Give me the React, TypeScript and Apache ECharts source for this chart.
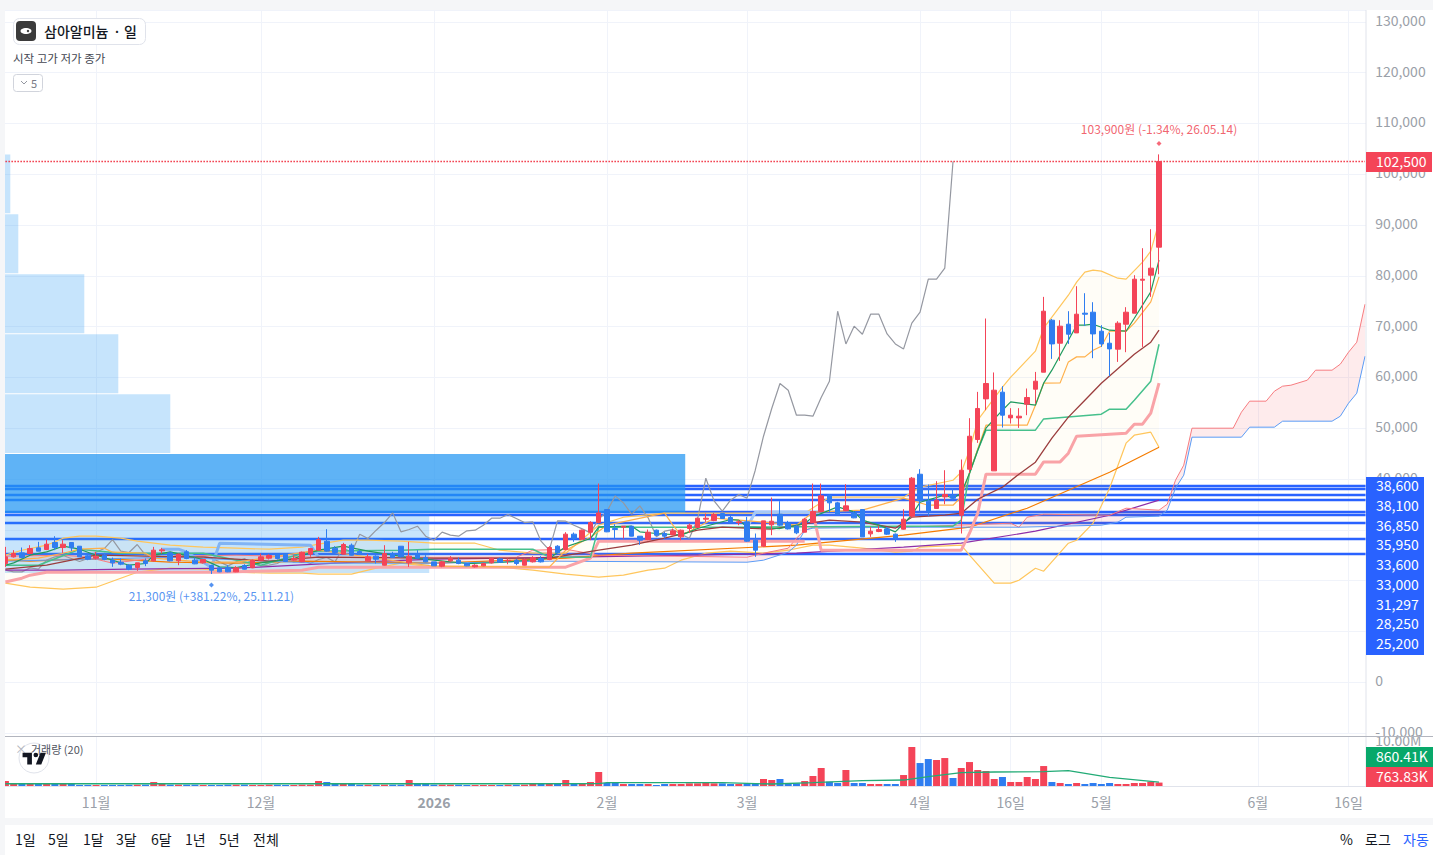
import React, { useEffect, useRef } from "react";
import * as echarts from "echarts";

type P = [number, number];
const FONT = '"Noto Sans CJK KR","Noto Sans",sans-serif';

const SLOT_COUNT = 166;
const categories = Array.from({ length: SLOT_COUNT }, (_, i) => String(i));
const timeTicks: [number, string][] = [[11, "11월"], [31, "12월"], [52, "2026"], [73, "2월"], [90, "3월"], [111, "4월"], [122, "16일"], [133, "5월"], [152, "6월"], [163, "16일"]];

// [open, close, low, high]
const candles: number[][] = [
  [23360,24670,22710,26640],[24670,25330,24540,25990],[25460,24540,24410,26510],[25330,26310,25200,26970],[26450,25790,25790,27630],
  [26120,27170,25990,28080],[27500,26510,25990,28740],[26510,27170,25460,27950],[27500,26450,25790,27500],[26770,24670,24670,26770],
  [24870,24210,24020,25330],[24410,24810,24150,25660],[25000,24150,24020,25460],[24020,23490,22710,24540],[23620,23230,23030,24350],
  [23030,22250,22050,23230],[22580,23490,21920,23490],[23890,23360,22840,24350],[23890,25990,23760,26640],[25860,26050,25330,26450],
  [25460,23890,23820,25660],[23890,25200,23030,25330],[25660,24350,24210,25990],[24020,23300,23230,24540],[23490,24150,23360,24150],
  [22970,22050,21300,23030],[22510,21720,21660,22710],[22580,21720,21660,23030],[21720,22510,21660,22840],[22970,22250,22180,23230],
  [22510,24020,22440,24150],[24020,24670,24020,25330],[24410,24940,24150,25200],[25200,24350,24150,25330],[25200,23760,23690,25330],
  [24020,24350,23890,25000],[23690,25590,23620,25720],[25200,26310,24670,26310],[25990,28080,25860,28610],[27750,25790,25660,30120],
  [26380,25530,25330,26770],[25200,27100,25130,27430],[26970,25000,24940,27300],[25720,25130,25070,26120],[23890,24670,23820,25200],
  [24810,24210,23360,25000],[23030,25330,22970,26970],[25330,24540,24480,25660],[26770,24670,24540,26770],[23490,24810,22710,27630],
  [25130,24410,24350,25990],[24540,23690,23620,25000],[23690,22900,22900,23690],[22840,23690,22640,23890],[23890,24350,23690,24810],
  [24020,23360,23230,24540],[23360,22900,22840,23490],[22710,23030,22580,23230],[22900,23360,22840,23490],[23490,24350,23360,24540],
  [24280,23620,23490,24540],[23890,24020,23230,24350],[24020,23360,23030,24280],[23030,24150,22970,24350],[23690,24540,23560,24810],
  [24350,23690,23560,24810],[24150,26510,24020,26770],[26770,25460,25330,26970],[26120,29140,25990,29530],[29140,28280,27630,29460],
  [28150,29920,28080,30050],[29530,31430,27950,31690],[31430,33330,31230,39110],[33990,29600,29530,34050],[30250,30050,28280,31100],
  [30510,30710,28280,30710],[30710,28740,28700,30770],[28740,27950,27040,28740],[28080,29530,27950,30050],[29920,28940,28810,30050],
  [29270,28740,28280,29600],[29000,29790,28940,30250],[28610,29920,27950,30050],[30250,30910,29400,31230],[30450,32280,30320,32410],
  [32090,32280,31560,33200],[31820,33000,31690,33330],[33200,32220,32220,33200],[32410,31430,31360,32810],[31430,31560,30910,31890],
  [31560,27760,27630,32550],[27950,25990,24670,29270],[26770,31760,26770,31760],[30970,31690,28940,36350],[33070,30910,30710,35630],
  [31360,30180,30050,31760],[30710,29400,29140,30910],[29530,32090,29460,32350],[31430,33600,31360,39110],[33600,36680,33470,39110],
  [36810,35300,33530,37010],[35300,33070,32940,35500],[33790,34710,33660,38980],[33330,32350,32280,33660],[33990,28610,28610,33990],
  [29200,29730,28610,30580],[29660,30050,29530,30840],[30180,29140,29000,30580],[29140,28350,27630,29270],[30120,32090,30050,34050],
  [32680,40160,32400,40400],[40940,35700,33520,41930],[35630,33660,32680,38900],[34190,35830,34190,39570],[36480,36950,35040,41730],
  [36810,36220,35830,38130],[32870,41730,29270,43840],[41930,48420,41200,51970],[47770,53880,47110,57150],[55770,58800,53540,71590],
  [41600,57480,41600,60970],[57090,52560,50130,58270],[52030,52560,50920,53940],[52030,52360,50060,53940],[54720,56040,52560,57810],
  [57680,59250,54860,61080],[61020,73030,61020,75850],[71260,66590,63640,71500],[66730,70080,63250,71260],[70470,68500,66590,73030],
  [68760,72440,68760,77950],[72640,72440,70140,76570],[72830,68560,63780,74800],[69090,66590,66000,70280],[66730,65610,60240,68760],
  [65550,70670,63050,71060],[70470,72830,64960,73820],[72640,79330,72640,80120],[79130,79330,66000,85430],[80120,81500,75850,89170],
  [85630,102500,80310,103900],
];

const volumes = [
  1.11,0.44,0.44,0.44,0.67,0.67,0.44,0.44,0.44,0.22,
  0.22,0.22,0.22,0.22,0.22,0.3,0.3,0.3,0.89,0.44,
  0.3,0.3,0.3,0.3,0.22,0.22,0.22,0.3,0.3,0.3,
  0.22,0.22,0.3,0.3,0.22,0.22,0.3,0.3,1.11,0.89,
  0.59,0.44,0.44,0.3,0.3,0.3,0.3,0.3,0.3,1.33,
  0.44,0.44,0.3,0.3,0.3,0.3,0.22,0.22,0.22,0.22,
  0.22,0.3,0.3,0.3,0.44,0.44,0.67,0.44,1.33,0.67,
  0.67,0.89,3.11,0.67,0.67,0.44,0.44,0.44,0.44,0.22,
  0.44,0.44,0.44,0.59,0.59,0.89,0.59,0.59,0.44,0.44,
  0.59,0.59,1.56,1.33,1.56,0.59,0.59,1.11,2.22,4.0,
  0.96,0.67,3.56,0.67,0.67,0.44,0.44,0.44,0.44,2.44,
  8.67,5.11,6.0,5.78,6.22,1.78,4.0,5.33,3.56,3.33,
  1.56,2.0,0.89,0.89,2.0,1.56,4.44,0.89,0.67,0.44,
  0.67,0.44,0.67,0.44,0.67,0.44,0.44,0.67,0.67,0.96,
  0.76,
];
const volumeMa: P[] = [[0,0.5],[30,0.5],[60,0.5],[72,0.55],[73,0.75],[87,0.74],[93,0.44],[98,0.74],[104,1.19],[109,1.33],[112,2.07],[116,2.96],[120,3.11],[126,3.19],[129,3.41],[134,1.93],[140,0.86]];

const laggingSpan = [22050,21720,21720,22510,22250,24020,24670,24940,24350,23760,24350,25590,26310,28080,25790,25530,27100,25000,25130,24670,24210,25330,24540,24670,24810,24410,23690,22900,23690,24350,23360,22900,23030,23360,24350,23620,24020,23360,24150,24540,23690,26510,25460,29140,28280,29920,31430,33330,29600,30050,30710,28740,27950,29530,28940,28740,29790,29920,30910,32280,32280,33000,32220,31430,31560,27760,25990,31760,31690,30910,30180,29400,32090,33600,36680,35300,33070,34710,32350,28610,29730,30050,29140,28350,32090,40160,35700,33660,35830,36950,36220,41730,48420,53880,58800,57480,52560,52560,52360,56040,59250,73030,66590,70080,68500,72440,72440,68560,66590,65610,70670,72830,79330,79330,81500,102500];

const shortMa: P[] = [[0,23030],[1,23490],[3,25000],[5,25660],[7,26770],[9,26180],[11,25000],[15,23030],[17,23360],[18,25000],[20,25660],[24,24150],[26,22710],[28,22580],[31,23490],[35,24350],[38,25990],[41,26770],[44,25790],[49,24540],[52,24020],[56,23360],[60,23560],[66,24350],[68,26640],[71,28280],[72,30580],[76,30710],[77,29600],[79,29270],[82,28940],[84,30250],[88,32020],[89,31890],[90,30580],[94,30250],[97,31230],[98,32550],[101,34520],[103,33530],[104,31890],[106,30910],[108,29600],[110,32870],[111,35430],[114,36810],[115,36220],[116,37200],[117,41140],[118,45670],[119,50000],[121,53540],[122,55180],[125,54530],[126,58860],[127,61420],[130,70280],[131,70280],[132,70470],[134,69290],[136,69090],[137,71650],[139,76830],[140,83070]];
const stairOrange: P[] = [[0,24020],[4,24410],[7,25390],[9,26180],[12,26380],[13,25590],[17,25390],[18,24410],[24,23620],[28,23620],[38,25980],[52,22830],[66,22640],[68,25980],[71,28540],[73,30910],[80,33270],[81,30910],[82,28940],[84,30510],[86,32280],[92,31500],[96,30910],[98,33460],[104,33860],[109,36220],[112,34840],[115,34840],[116,36480],[119,50590],[124,50590],[125,54530],[126,58860],[128,58920],[129,63050],[130,64040],[131,64040],[132,65350],[133,66140],[134,69090],[136,69090],[137,70670],[139,74860],[140,79780]];
const bbUpper: P[] = [[0,25000],[2,25980],[5,26970],[7,28350],[9,28740],[11,28740],[14,28350],[16,27760],[20,26970],[24,26570],[28,26380],[32,26180],[36,26570],[38,27170],[41,27950],[44,27950],[48,27760],[52,27360],[57,27360],[60,25980],[64,25390],[68,25390],[72,30910],[75,32480],[80,33270],[84,33270],[97,33270],[100,36420],[109,36420],[111,38390],[115,39760],[116,41340],[117,45670],[118,51570],[121,58070],[122,60040],[125,65160],[126,69680],[129,76180],[130,78740],[131,80710],[132,81100],[133,80910],[135,79530],[136,79330],[138,82680],[139,84840],[140,90550]];
const bbLower: P[] = [[0,19490],[3,18700],[7,18310],[11,18700],[14,20470],[16,21650],[20,22440],[24,22240],[28,21650],[32,21460],[36,21460],[38,21260],[42,21260],[45,22440],[48,23430],[52,22640],[56,22640],[60,22640],[64,22050],[68,21260],[72,20670],[75,21060],[78,22050],[80,22440],[82,24020],[85,25390],[88,25790],[92,25390],[95,25980],[98,26970],[100,26970],[104,26380],[108,25590],[110,25790],[111,26570],[116,26970],[117,25000],[120,19490],[122,19490],[123,20080],[125,22440],[126,21850],[129,27360],[130,27950],[132,31300],[134,38190],[136,47050],[137,48620],[139,49210],[140,46260]];
const midGreen: P[] = [[0,23030],[4,23030],[9,26180],[14,25390],[24,25390],[31,23030],[37,25790],[48,25990],[52,26180],[64,26180],[66,24610],[71,24610],[72,30510],[90,30510],[108,30710],[115,30710],[116,31890],[117,41140],[118,45670],[119,49610],[125,49610],[126,51830],[133,52760],[134,53740],[136,53740],[137,55510],[139,59250],[140,66530]];
const kijunPinkA: P[] = [[0,19740],[2,20470],[3,21060],[5,21650],[26,21650],[36,22050],[38,22640],[52,22640],[66,22640],[68,22640],[71,24410],[72,27760],[90,27760],[97,27760]];
const kijunPinkB: P[] = [[98,33460],[99,25980],[116,25980],[117,29330],[118,33270],[119,40950],[125,40950],[126,43370],[128,43370],[129,45080],[130,48430],[136,49020],[137,50790],[138,50790],[139,52950],[140,58860]];
const kijunBlueA: P[] = [[19,26180],[21,26180],[22,25590],[25,22640],[26,27360],[37,26970],[38,24610]];
const kijunBlueB: P[] = [[90,30510],[91,33460],[98,33460]];
const ma60: P[] = [[0,22240],[5,23030],[8,24020],[11,25000],[17,24800],[24,24610],[32,23820],[38,24610],[52,24410],[66,24410],[72,25980],[76,26970],[80,28350],[84,29920],[87,30510],[93,30120],[100,31890],[104,31500],[108,30320],[110,32480],[114,32870],[116,33270],[118,36020],[121,38390],[123,40950],[125,43310],[126,45670],[127,48030],[129,52170],[131,55510],[133,58860],[137,64570],[139,66930],[140,69290]];
const ma120: P[] = [[0,24020],[3,23820],[9,24210],[13,24210],[20,23620],[28,23430],[36,23820],[52,23430],[68,24410],[76,25390],[96,26970],[109,28940],[117,30510],[124,34250],[134,41340],[140,46260]];
const ma240: P[] = [[0,22050],[7,22050],[15,22240],[28,22440],[40,23430],[52,24210],[76,24800],[96,25390],[109,26570],[116,27360],[125,29730],[134,32870],[140,35830]];
const spanA: P[] = [[0,24800],[7,25000],[10,24610],[13,23430],[20,24800],[28,25000],[38,24610],[52,24610],[62,24610],[64,25980],[68,26180],[72,25000],[90,24610],[92,25390],[95,26380],[96,28350],[97,29920],[98,30510],[109,30510],[122,31300],[123,30510],[124,32480],[126,33070],[134,32870],[136,34250],[140,33860],[141,35040],[142,39760],[143,42720],[144,50000],[149,50000],[150,53150],[151,55320],[153,55320],[154,57280],[155,58270],[156,58460],[158,59450],[159,61420],[161,61420],[162,62600],[163,64960],[164,66930],[165,74410]];
const spanB: P[] = [[0,23820],[20,24610],[38,23430],[52,23430],[66,23820],[90,23620],[92,24020],[95,25590],[96,26970],[97,29920],[98,30320],[109,30510],[123,30510],[133,30910],[135,31500],[136,32480],[140,32680],[141,33860],[142,38190],[143,40750],[144,48230],[150,48230],[151,50200],[154,50200],[155,51380],[161,51380],[162,52360],[163,54920],[164,56890],[165,64170]];

const levelPrices = [38600, 38100, 36850, 35950, 33600, 33000, 31297, 28250, 25200];
const levelLabels = ["38,600", "38,100", "36,850", "35,950", "33,600", "33,000", "31,297", "28,250", "25,200"];
const hiddenAxisTicks = [10000, 20000, 30000];
const profileEdges = [103900, 92100, 80300, 68500, 56700, 44900, 33100, 21300];
const profileVolumes = [9, 17, 83, 117, 169, 684, 428];
const rangeButtons = ["1일", "5일", "1달", "3달", "6달", "1년", "5년", "전체"];
const rangeButtonX = [15, 48, 83, 116, 151, 185, 219, 253];

const RED = "#f44458";
const BLUE = "#2f7df0";
const LEVEL = "#2962ff";

function lineSeries(name: string, data: P[], color: string, width: number, z = 4, extra: any = {}) {
  return { name, type: "line", data, symbol: "none", silent: true, z, lineStyle: { color, width, ...extra }, xAxisIndex: 0, yAxisIndex: 0 };
}

function bandSeries(upper: P[], lower: P[], fill: string, z: number) {
  return {
    type: "custom", xAxisIndex: 0, yAxisIndex: 0, silent: true, z, data: [[0, 0]],
    renderItem: (_: any, api: any) => ({
      type: "polygon",
      shape: { points: [...upper, ...[...lower].reverse()].map((p) => api.coord(p)) },
      style: { fill },
    }),
  };
}

function buildOption() {
  const tag = (x: number, y: number, w: number, h: number, fill: string) => ({ type: "rect", z: 100, silent: true, shape: { x, y, width: w, height: h }, style: { fill } });
  const txt = (x: number, y: number, text: string, fill: string, size: number, weight = "normal", align = "left") => ({
    type: "text", z: 101, silent: true, x, y,
    style: { text, fill, font: `${weight} ${size}px ${FONT}`, textAlign: align, textVerticalAlign: "middle", align, verticalAlign: "middle" },
  });
  const bg = "#f5f6f8";
  const tickIdx = timeTicks.map((t) => t[0]);
  const vLines = { silent: true, symbol: "none", z: 0, animation: false, label: { show: false }, lineStyle: { color: "#f0f3fa", width: 1, type: "solid" }, data: tickIdx.map((i) => ({ xAxis: i })) };

  const graphicEls: any[] = [
    tag(0, 0, 5, 855, bg), tag(0, 0, 1433, 10, bg), tag(0, 818, 1433, 7, bg),
    tag(1366, 10, 6, 808, "#ffffff"),
    { type: "line", z: 100, silent: true, shape: { x1: 1366, y1: 10, x2: 1366, y2: 787 }, style: { stroke: "#e0e3eb", lineWidth: 1 } },
    { type: "line", z: 100, silent: true, shape: { x1: 5, y1: 736.5, x2: 1433, y2: 736.5 }, style: { stroke: "#b2b5be", lineWidth: 1 } },
    { type: "line", z: 100, silent: true, shape: { x1: 5, y1: 786.5, x2: 1366, y2: 786.5 }, style: { stroke: "#e0e3eb", lineWidth: 1 } },
    // header chip
    { type: "rect", z: 100, silent: true, shape: { x: 13.5, y: 18.5, width: 132, height: 26, r: 6 }, style: { fill: "#ffffff", stroke: "#e0e3eb", lineWidth: 1 } },
    { type: "rect", z: 101, silent: true, shape: { x: 16, y: 21, width: 20, height: 20, r: 4 }, style: { fill: "#3b3b3b" } },
    { type: "ellipse", z: 102, silent: true, shape: { cx: 26, cy: 31, rx: 5.5, ry: 3 }, style: { fill: "#ffffff" } },
    { type: "circle", z: 103, silent: true, shape: { cx: 28, cy: 31, r: 1.2 }, style: { fill: "#3b3b3b" } },
    txt(44, 30.5, "삼아알미늄", "#131722", 14, "500"),
    txt(113, 30.5, "·", "#131722", 14, "500"),
    txt(124, 30.5, "일", "#131722", 14, "500"),
    txt(13, 57.5, "시작 고가 저가 종가", "#434651", 11.5),
    { type: "rect", z: 100, silent: true, shape: { x: 13.5, y: 74.5, width: 29, height: 17, r: 3 }, style: { fill: "#ffffff", stroke: "#d1d4dc", lineWidth: 1 } },
    { type: "polyline", z: 101, silent: true, shape: { points: [[21, 81], [24, 84], [27, 81]] }, style: { stroke: "#9598a1", lineWidth: 1, fill: "none" } },
    txt(31, 83, "5", "#787b86", 11),
    // right price tags
    tag(1366, 477, 58, 178, LEVEL),
    ...levelLabels.map((s, i) => txt(1376, 485 + i * 19.75, s, "#ffffff", 14)),
    tag(1366, 152, 66, 20, RED), txt(1376, 161, "102,500", "#ffffff", 14),
    tag(1366, 747, 67, 20, "#08a86a"), txt(1376, 756, "860.41K", "#ffffff", 14),
    tag(1366, 767, 67, 20, RED), txt(1376, 776, "763.83K", "#ffffff", 14),
    // volume pane
    txt(15, 748, "×", "#b2b5be", 12),
    txt(31, 749, "거래량 (20)", "#50535e", 11),
    { type: "circle", z: 100, silent: true, shape: { cx: 34, cy: 758, r: 15 }, style: { fill: "rgba(255,255,255,0.3)", stroke: "#e0e3eb", lineWidth: 1 } },
    { type: "tvlogo", z: 101, silent: true, x: 21, y: 748, scaleX: 0.78, scaleY: 0.78, style: { fill: "#131722" } },
    // bottom bar
    ...rangeButtons.map((s, i) => txt(rangeButtonX[i], 839, s, "#131722", 14)),
    txt(1340, 839, "%", "#131722", 14),
    txt(1365, 839, "로그", "#131722", 14),
    txt(1403, 839, "자동", "#2962ff", 14),
  ];

  return {
    animation: false,
    backgroundColor: "#ffffff",
    textStyle: { fontFamily: FONT },
    grid: [
      { left: 1.3, width: 1367.84, top: 10, height: 723 },
      { left: 1.3, width: 1367.84, top: 737, height: 49 },
    ],
    xAxis: [
      { type: "category", gridIndex: 0, data: categories, show: false },
      { type: "value", gridIndex: 0, min: 0, max: 1368, show: false },
      {
        type: "category", gridIndex: 1, data: categories,
        axisLine: { show: false }, axisTick: { show: false }, splitLine: { show: false },
        axisLabel: {
          interval: (i: number) => tickIdx.includes(i),
          hideOverlap: false, margin: 9, color: "#9aa0a8", fontSize: 14, fontFamily: FONT,
          formatter: (v: string) => {
            const found = timeTicks.find((t) => String(t[0]) === v);
            if (!found) return "";
            return found[1] === "2026" ? `{b|${found[1]}}` : found[1];
          },
          rich: { b: { fontWeight: "bold", fontSize: 14, color: "#9aa0a8", fontFamily: FONT } },
        },
      },
    ],
    yAxis: [
      {
        type: "value", gridIndex: 0, position: "right", min: -10000, max: 132320, interval: 10000, scale: false,
        axisLine: { show: false }, axisTick: { show: false },
        splitLine: { show: true, lineStyle: { color: "#f0f3fa", width: 1 } },
        axisLabel: {
          showMaxLabel: false, showMinLabel: true, margin: 6, color: "#9aa0a8", fontSize: 14, fontFamily: FONT,
          verticalAlign: "bottom", lineHeight: 14, padding: [0, 0, -5, 0],
          formatter: (v: number) => (hiddenAxisTicks.includes(v) ? "" : v.toLocaleString("en-US")),
        },
      },
      {
        type: "value", gridIndex: 1, position: "right", min: 0, max: 10.9, interval: 10,
        axisLine: { show: false }, axisTick: { show: false }, splitLine: { show: false },
        axisLabel: { showMaxLabel: false, showMinLabel: false, margin: 6, color: "#9aa0a8", fontSize: 14, fontFamily: FONT, verticalAlign: "bottom", lineHeight: 14, padding: [0, 0, -6, 0], formatter: (v: number) => `${v.toFixed(2)}M` },
      },
    ],
    graphic: { elements: graphicEls },
    series: [
      {
        name: "levels", type: "line", xAxisIndex: 0, yAxisIndex: 0, data: [], z: 1, silent: true, symbol: "none",
        markLine: { silent: true, symbol: "none", z: 1, animation: false, label: { show: false }, lineStyle: { color: LEVEL, width: 2.4, type: "solid" }, data: levelPrices.map((p) => ({ yAxis: p })) },
      },
      { name: "time-grid", type: "line", xAxisIndex: 0, yAxisIndex: 0, data: [], z: 0, silent: true, symbol: "none", markLine: vLines },
      { name: "time-grid-2", type: "line", xAxisIndex: 2, yAxisIndex: 1, data: [], z: 0, silent: true, symbol: "none", markLine: vLines },
      {
        name: "profile", type: "custom", xAxisIndex: 1, yAxisIndex: 0, silent: true, z: 2,
        data: profileVolumes.map((v, i) => [v, profileEdges[i + 1], profileEdges[i]]),
        encode: { x: 0, y: [1, 2] },
        renderItem: (_: any, api: any) => {
          const a = api.coord([0, api.value(2)]);
          const b = api.coord([api.value(0), api.value(1)]);
          const isMax = api.value(0) === Math.max(...profileVolumes);
          return { type: "rect", shape: { x: a[0], y: a[1], width: b[0] - a[0], height: b[1] - a[1] - 1 }, style: { fill: isMax ? "rgba(33,150,243,0.72)" : "rgba(33,150,243,0.26)" } };
        },
      },
      bandSeries(bbUpper, bbLower, "rgba(250,220,120,0.06)", 3),
      bandSeries(spanA, spanB, "rgba(242,54,69,0.1)", 3),
      lineSeries("지연", laggingSpan.map((v, i) => [i, v] as P), "#9598a1", 1.2),
      lineSeries("BB upper", bbUpper, "#ffc65c", 1.2),
      lineSeries("BB lower", bbLower, "#ffc65c", 1.2),
      lineSeries("ma240", ma240, "#8e2ea8", 1.2),
      lineSeries("ma120", ma120, "#f57c00", 1.2),
      lineSeries("span A", spanA, "#f77c80", 1),
      lineSeries("span B", spanB, "#5b9cf6", 1),
      lineSeries("kijun", kijunPinkA, "#f9a3a7", 3),
      lineSeries("kijun2", kijunPinkB, "#f9a3a7", 3),
      lineSeries("kijun3", kijunBlueA, "#81b4f5", 3),
      lineSeries("kijun4", kijunBlueB, "#a5c9f8", 3),
      lineSeries("mid", midGreen, "#46c08c", 1.5),
      lineSeries("ma60", ma60, "#9b3d3d", 1.3),
      lineSeries("stair", stairOrange, "#ffb04a", 1.2),
      lineSeries("short", shortMa, "#1f9a5e", 1.2),
      lineSeries("current", [[0, 102500], [165, 102500]], "#f23645", 1.3, 4, { type: [1.5, 1.5] }),
      {
        name: "삼아알미늄", type: "candlestick", xAxisIndex: 0, yAxisIndex: 0, z: 5, barWidth: 5, silent: true,
        data: candles,
        itemStyle: { color: RED, color0: BLUE, borderColor: RED, borderColor0: BLUE, borderWidth: 1 },
      },
      {
        name: "high", type: "scatter", xAxisIndex: 0, yAxisIndex: 0, z: 6, silent: true, symbol: "diamond", symbolSize: 5, symbolOffset: [0, -11],
        data: [[140, 103900]], itemStyle: { color: RED },
        label: { show: true, position: "top", offset: [0, -1], color: "#ee3a4a", fontSize: 12, fontFamily: FONT, formatter: "103,900원 (-1.34%, 26.05.14)" },
      },
      {
        name: "low", type: "scatter", xAxisIndex: 0, yAxisIndex: 0, z: 6, silent: true, symbol: "diamond", symbolSize: 5, symbolOffset: [0, 11],
        data: [[25, 21300]], itemStyle: { color: "#2a78ee" },
        label: { show: true, position: "bottom", offset: [0, -3], color: "#2a78ee", fontSize: 12, fontFamily: FONT, formatter: "21,300원 (+381.22%, 25.11.21)" },
      },
      {
        name: "거래량", type: "bar", xAxisIndex: 2, yAxisIndex: 1, barWidth: 7, z: 3, silent: true,
        data: volumes.map((v, i) => ({ value: v, itemStyle: { color: candles[i][1] >= candles[i][0] ? RED : BLUE } })),
      },
      { name: "거래량 MA", type: "line", xAxisIndex: 2, yAxisIndex: 1, data: volumeMa, symbol: "none", z: 4, silent: true, lineStyle: { color: "#22ab76", width: 1.3 } },
    ],
  };
}

export default function App() {
  const ref = useRef<HTMLDivElement>(null);
  useEffect(() => {
    const d = "M14 6H2v6h6v9h6V6Zm12 15h-7l6-15h7l-6 15Zm-7-9a3 3 0 1 0 0-6 3 3 0 0 0 0 6Z";
    echarts.graphic.registerShape("tvlogo", echarts.graphic.extendPath(d, {}));
    const chart = echarts.init(ref.current!, undefined, { renderer: "svg", width: 1433, height: 855 });
    chart.setOption(buildOption() as any);
    return () => chart.dispose();
  }, []);
  return <div ref={ref} style={{ position: "fixed", left: 0, top: 0, width: 1433, height: 855 }} />;
}
